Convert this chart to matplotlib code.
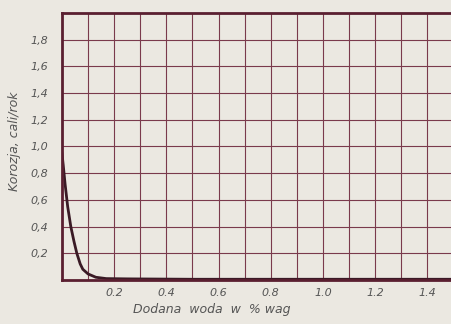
import numpy as np
import matplotlib.pyplot as plt

# dane
woda = [0.0, 0.005, 0.012, 0.022, 0.034, 0.046, 0.057, 0.07, 0.08, 0.10, 0.13, 0.17, 0.25, 0.5, 1.0, 1.5]
korozja = [0.95, 0.86, 0.72, 0.55, 0.40, 0.29, 0.20, 0.12, 0.08, 0.045, 0.02, 0.01, 0.008, 0.005, 0.005, 0.005]

x_ticks = [0.2, 0.4, 0.6, 0.8, 1.0, 1.2, 1.4]
x_labels = ['0.2', '0.4', '0.6', '0.8', '1.0', '1.2', '1.4']
y_ticks = [0.2, 0.4, 0.6, 0.8, 1.0, 1.2, 1.4, 1.6, 1.8]
y_labels = ['0,2', '0,4', '0,6', '0,8', '1,0', '1,2', '1,4', '1,6', '1,8']

tlo = '#ebe8e1'
siatka = '#7a3a4c'
tekst = '#555555'

fig = plt.figure(figsize=(4.52, 3.24), dpi=100, facecolor=tlo)
ax = fig.add_axes([0.137, 0.136, 0.863, 0.824])
ax.set_facecolor(tlo)

ax.set_xlim(0, 1.494)
ax.set_ylim(0, 2.0)

ax.set_xticks(x_ticks)
ax.set_xticklabels(x_labels)
ax.set_yticks(y_ticks)
ax.set_yticklabels(y_labels)
ax.set_xticks(np.arange(0.1, 1.5, 0.2), minor=True)
ax.grid(True, which='both', color=siatka, linewidth=0.8)
ax.set_axisbelow(True)

ax.plot(woda, korozja, color='#3a1a25', linewidth=2)

ax.tick_params(which='both', length=0, colors=tekst, labelsize=8)
ax.tick_params(axis='y', pad=10)
ax.tick_params(axis='x', pad=6)
for lab in ax.get_xticklabels() + ax.get_yticklabels():
    lab.set_style('italic')

for s in ['left', 'bottom', 'top']:
    ax.spines[s].set_color('#5a1f30')
    ax.spines[s].set_linewidth(2)
ax.spines['right'].set_visible(False)

ax.set_xlabel('Dodana  woda  w  % wag', fontsize=9, style='italic', color=tekst)
ax.set_ylabel('Korozja, cali/rok', fontsize=9, style='italic', color=tekst)
ax.xaxis.set_label_coords(0.385, -0.085)
ax.yaxis.set_label_coords(-0.105, 0.52)

fig.savefig('out.png', dpi=100, facecolor=tlo)
